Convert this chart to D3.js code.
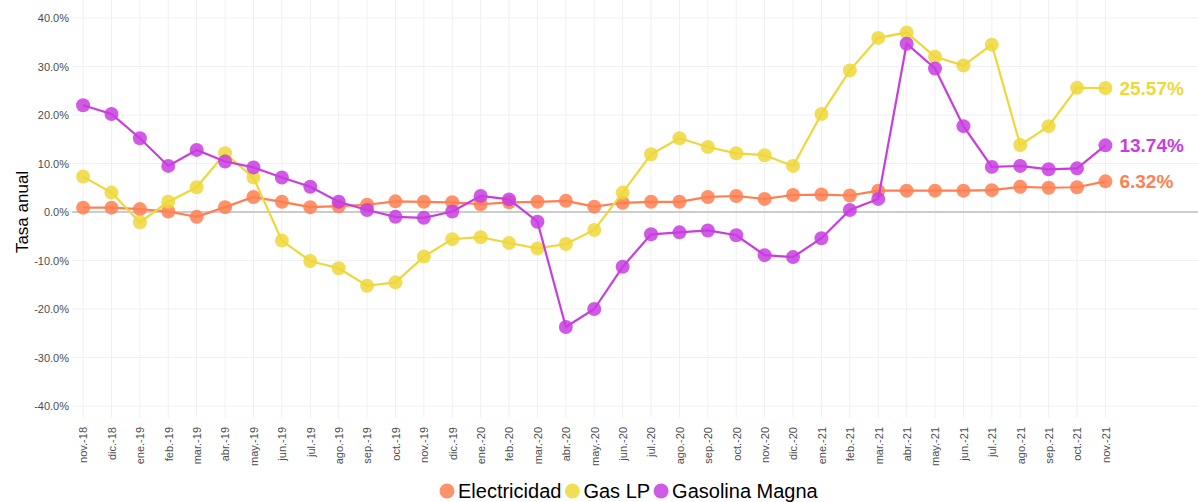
<!DOCTYPE html>
<html>
<head>
<meta charset="utf-8">
<script src="https://cdn.jsdelivr.net/npm/d3@7"></script>
<style>
  body { margin: 0; background: #fff; font-family: "Liberation Sans", Arial, sans-serif; }
</style>
</head>
<body>
<svg id="chart"></svg>
<script>
var months = ["nov.-18","dic.-18","ene.-19","feb.-19","mar.-19","abr.-19","may.-19","jun.-19","jul.-19","ago.-19","sep.-19","oct.-19",
  "nov.-19","dic.-19","ene.-20","feb.-20","mar.-20","abr.-20","may.-20","jun.-20","jul.-20","ago.-20","sep.-20","oct.-20",
  "nov.-20","dic.-20","ene.-21","feb.-21","mar.-21","abr.-21","may.-21","jun.-21","jul.-21","ago.-21","sep.-21","oct.-21","nov.-21"];

var electricidad = [0.9,0.9,0.6,0.1,-1.0,1.0,3.1,2.1,1.0,1.2,1.5,2.2,2.1,2.0,1.6,2.0,2.1,2.3,1.1,1.9,2.1,2.1,3.1,3.3,2.7,3.5,3.6,3.4,4.4,4.4,4.4,4.4,4.5,5.2,5.0,5.1,6.32];
var gasLP = [7.3,4.0,-2.1,2.1,5.1,12.1,7.1,-5.9,-10.1,-11.6,-15.2,-14.5,-9.2,-5.6,-5.2,-6.4,-7.5,-6.6,-3.7,4.0,11.9,15.2,13.4,12.1,11.7,9.5,20.2,29.2,35.9,37.0,32.0,30.2,34.5,13.8,17.7,25.6,25.57];
var gasolina = [22.0,20.2,15.2,9.5,12.8,10.4,9.2,7.1,5.2,2.1,0.4,-1.0,-1.2,0.1,3.3,2.6,-2.0,-23.7,-20.0,-11.3,-4.6,-4.2,-3.8,-4.8,-8.9,-9.3,-5.4,0.4,2.7,34.7,29.6,17.7,9.3,9.5,8.8,9.0,13.74];

var yTicks = [-40,-30,-20,-10,0,10,20,30,40];

var series = [
  {name: "Electricidad", values: electricidad, color: "#FF7F50"},
  {name: "Gas LP", values: gasLP, color: "#EED739"},
  {name: "Gasolina Magna", values: gasolina, color: "#C83DE0"}
];

var W = 1198, H = 502;
var panel = {left: 72, right: 1198, top: 0, bottom: 418};

var svg = d3.select("#chart").attr("width", W).attr("height", H);

var x = d3.scaleLinear()
  .domain([-0.39, 39.26])
  .range([panel.left, panel.right]);

var y = d3.scaleLinear()
  .domain([-40, 40])
  .range([406, 18]);

// grid
svg.append("g").selectAll("line.h")
  .data(yTicks)
  .enter().append("line")
    .attr("x1", panel.left).attr("x2", panel.right)
    .attr("y1", function(d) { return y(d); }).attr("y2", function(d) { return y(d); })
    .attr("stroke", "#f0f0f0").attr("stroke-width", 1);

svg.append("g").selectAll("line.v")
  .data(months)
  .enter().append("line")
    .attr("x1", function(d, i) { return x(i); }).attr("x2", function(d, i) { return x(i); })
    .attr("y1", panel.top).attr("y2", panel.bottom)
    .attr("stroke", "#f0f0f0").attr("stroke-width", 1);

// zero line
svg.append("line")
  .attr("x1", panel.left).attr("x2", panel.right)
  .attr("y1", y(0)).attr("y2", y(0))
  .attr("stroke", "#cccccc").attr("stroke-width", 2);

// y axis
var yAxis = svg.append("g")
    .attr("transform", "translate(" + (panel.left - 3) + ",0)")
    .call(d3.axisLeft(y).tickValues(yTicks).tickSize(0).tickPadding(0)
      .tickFormat(function(d) { return d.toFixed(1) + "%"; }));
yAxis.select(".domain").remove();
yAxis.selectAll("text")
  .attr("fill", "#4d4d4d")
  .style("font-size", "11px")
  .style("font-family", "Liberation Sans, Arial, sans-serif");

// x axis
var xAxis = svg.append("g")
    .attr("transform", "translate(0," + (panel.bottom + 9) + ")")
    .call(d3.axisBottom(x).tickValues(d3.range(months.length)).tickSize(0).tickPadding(0)
      .tickFormat(function(d) { return months[d]; }));
xAxis.select(".domain").remove();
xAxis.selectAll("text")
  .attr("fill", "#4d4d4d")
  .attr("transform", "rotate(-90)")
  .attr("dy", "0.35em")
  .attr("x", 0)
  .attr("y", 0)
  .style("text-anchor", "end")
  .style("font-size", "11px")
  .style("font-family", "Liberation Sans, Arial, sans-serif");

// y title
svg.append("text")
  .attr("transform", "translate(28," + y(0) + ") rotate(-90)")
  .style("text-anchor", "middle")
  .style("font-size", "17px")
  .attr("fill", "#000")
  .text("Tasa anual");

var line = d3.line()
  .x(function(d, i) { return x(i); })
  .y(function(d) { return y(d); });

series.forEach(function(s) {
  svg.append("path")
    .datum(s.values)
    .attr("fill", "none")
    .attr("stroke", s.color)
    .attr("stroke-width", 2.2)
    .attr("d", line);

  svg.append("g").selectAll("circle")
    .data(s.values)
    .enter().append("circle")
      .attr("cx", function(d, i) { return x(i); })
      .attr("cy", function(d) { return y(d); })
      .attr("r", 7)
      .attr("fill", s.color)
      .attr("fill-opacity", 0.85);

  var last = s.values[s.values.length - 1];
  svg.append("text")
    .attr("x", x(s.values.length - 1) + 14)
    .attr("y", y(last))
    .attr("dy", "0.36em")
    .attr("fill", s.color)
    .style("font-weight", "bold")
    .style("font-size", "19px")
    .text(last.toFixed(2) + "%");
});

// legend
var legend = svg.append("g").attr("transform", "translate(447,491)");
var lx = 0;
series.forEach(function(s) {
  legend.append("circle")
    .attr("cx", lx).attr("cy", 0).attr("r", 7.5)
    .attr("fill", s.color).attr("fill-opacity", 0.85);
  var t = legend.append("text")
    .attr("x", lx + 11)
    .attr("dy", "0.36em")
    .style("font-size", "20px")
    .attr("fill", "#000")
    .text(s.name);
  lx += 11 + t.node().getComputedTextLength() + 11;
});
</script>
</body>
</html>
